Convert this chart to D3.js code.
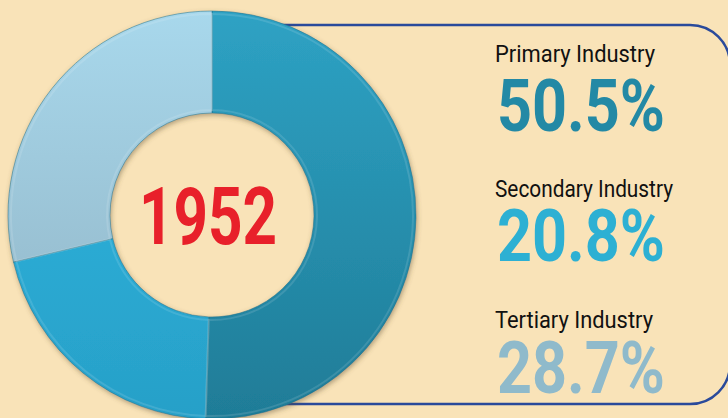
<!DOCTYPE html>
<html>
<head>
<meta charset="utf-8">
<script src="https://cdn.jsdelivr.net/npm/d3@7"></script>
<style>
  html, body { margin: 0; padding: 0; background: #f9e3b8; }
  svg { display: block; }
</style>
</head>
<body>
<div id="chart"></div>
<script>
const year = "1952";
const sectors = ["Primary Industry", "Secondary Industry", "Tertiary Industry"];
const shares = [50.5, 20.8, 28.7];
const shareLabels = ["50.5%", "20.8%", "28.7%"];

function drawShareDonut(containerId) {
  const width = 728, height = 418;
  const cx = 212, cy = 215, outerR = 204, innerR = 102;

  d3.select(`#${containerId}`).html("");

  const svg = d3.select(`#${containerId}`)
      .append("svg")
          .attr("width", width)
          .attr("height", height);

  svg.append("rect")
      .attr("width", width)
      .attr("height", height)
      .attr("fill", "#f9e3b8");

  const defs = svg.append("defs");

  // slice gradients (top colour, bottom colour)
  const sliceColors = [
    ["#2ea2c4", "#1f7c97"],
    ["#30b8e2", "#27a0c8"],
    ["#a8d8ec", "#8fb1c2"]
  ];
  const textColors = ["#2389a5", "#2db0d3", "#8fbacb"];

  sliceColors.forEach((c, i) => {
    const g = defs.append("linearGradient")
        .attr("id", `slice-grad-${i}`)
        .attr("gradientUnits", "userSpaceOnUse")
        .attr("x1", 0).attr("y1", -outerR)
        .attr("x2", 0).attr("y2", outerR);
    g.append("stop").attr("offset", "0%").attr("stop-color", c[0]);
    g.append("stop").attr("offset", "100%").attr("stop-color", c[1]);
  });

  const shadow = defs.append("filter")
      .attr("id", "donut-shadow")
      .attr("x", "-10%").attr("y", "-10%")
      .attr("width", "120%").attr("height", "120%");
  shadow.append("feDropShadow")
      .attr("dx", 1).attr("dy", 2)
      .attr("stdDeviation", 2.5)
      .attr("flood-color", "#5a4a2a")
      .attr("flood-opacity", 0.45);

  // Frame: open on the left, its ends hidden behind the donut
  const fx0 = 270, fx1 = 730, fy0 = 25, fy1 = 404, fr = 40;
  svg.append("path")
      .attr("d", `M${fx0},${fy0} H${fx1 - fr} A${fr},${fr} 0 0 1 ${fx1},${fy0 + fr}` +
                 ` V${fy1 - fr} A${fr},${fr} 0 0 1 ${fx1 - fr},${fy1} H${fx0}`)
      .attr("fill", "none")
      .attr("stroke", "#2a4a9b")
      .attr("stroke-width", 2.5);

  // Donut
  const pie = d3.pie()
      .sort(null)
      .value(d => d);

  const arc = d3.arc()
      .innerRadius(innerR)
      .outerRadius(outerR);

  const bevel = d3.arc()
      .innerRadius(innerR + 3)
      .outerRadius(outerR - 3);

  const donut = svg.append("g")
      .attr("transform", `translate(${cx},${cy})`)
      .attr("filter", "url(#donut-shadow)");

  const arcs = pie(shares);

  donut.selectAll("path.slice")
      .data(arcs)
      .join("path")
          .attr("class", "slice")
          .attr("d", arc)
          .attr("fill", (d, i) => `url(#slice-grad-${i})`)
          .attr("stroke", "#1d6f88")
          .attr("stroke-opacity", 0.5)
          .attr("stroke-width", 1);

  // soft highlight for a bevelled look
  donut.selectAll("path.bevel")
      .data(arcs)
      .join("path")
          .attr("class", "bevel")
          .attr("d", bevel)
          .attr("fill", "none")
          .attr("stroke", "#ffffff")
          .attr("stroke-opacity", 0.12)
          .attr("stroke-width", 2);

  // Centre year
  svg.append("text")
      .attr("x", 139)
      .attr("y", 244)
      .attr("textLength", 138)
      .attr("lengthAdjust", "spacingAndGlyphs")
      .style("font-family", "Roboto, sans-serif")
      .style("font-weight", "700")
      .style("font-size", "80px")
      .style("fill", "#e8202a")
      .text(year);

  // Legend texts
  const labelBaselines = [62, 197, 328];
  const labelWidths = [160, 178, 158];
  const valueBaselines = [131, 261, 393];

  sectors.forEach((s, i) => {
    svg.append("text")
        .attr("x", 495)
        .attr("y", labelBaselines[i])
        .attr("textLength", labelWidths[i])
        .attr("lengthAdjust", "spacingAndGlyphs")
        .style("font-family", "Roboto, sans-serif")
        .style("font-size", "23px")
        .style("fill", "#111")
        .text(s);

    svg.append("text")
        .attr("x", 497)
        .attr("y", valueBaselines[i])
        .attr("textLength", 168)
        .attr("lengthAdjust", "spacingAndGlyphs")
        .style("font-family", "Roboto, sans-serif")
        .style("font-weight", "700")
        .style("font-size", "72px")
        .style("fill", textColors[i])
        .text(shareLabels[i]);
  });
}

document.addEventListener("DOMContentLoaded", function () {
  drawShareDonut("chart");
});
</script>
</body>
</html>
